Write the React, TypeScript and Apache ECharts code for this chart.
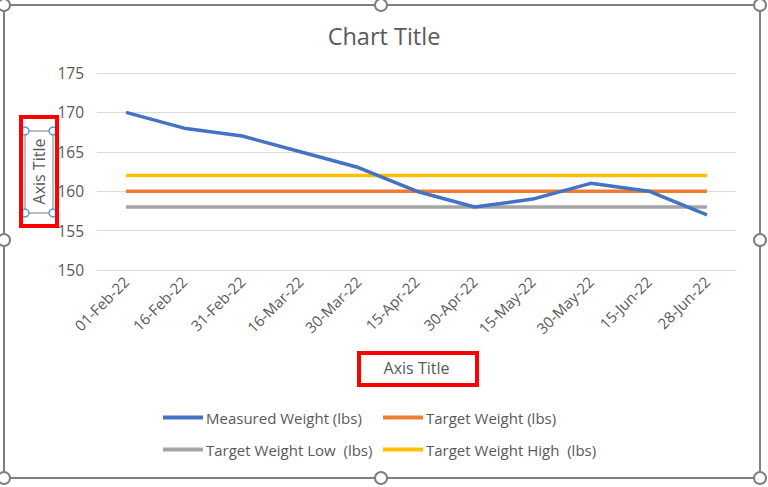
import React, { useEffect, useRef } from "react";
import * as echarts from "echarts";

const categories = ["01-Feb-22", "16-Feb-22", "31-Feb-22", "16-Mar-22", "30-Mar-22", "15-Apr-22", "30-Apr-22", "15-May-22", "30-May-22", "15-Jun-22", "28-Jun-22"];
const measured = [170, 168, 167, 165, 163, 160, 158, 159, 161, 160, 157];
const target = [160, 160, 160, 160, 160, 160, 160, 160, 160, 160, 160];
const targetLow = [158, 158, 158, 158, 158, 158, 158, 158, 158, 158, 158];
const targetHigh = [162, 162, 162, 162, 162, 162, 162, 162, 162, 162, 162];
const seriesNames = ["Measured Weight (lbs)", "Target Weight (lbs)", "Target Weight Low  (lbs)", "Target Weight High  (lbs)"];
const colors = ["#4472C4", "#ED7D31", "#A5A5A5", "#FFC000"];

const FONT = "'Open Sans', sans-serif";
const TXT = "#595959";

export default function App() {
  const ref = useRef<HTMLDivElement>(null);
  useEffect(() => {
    document.body.style.margin = "0";
    const chart = echarts.init(ref.current!, null, { renderer: "svg" });
    const handle = (x: number, y: number) => ({
      type: "circle",
      shape: { cx: x, cy: y, r: 6 },
      style: { fill: "#fff", stroke: "#7f7f7f", lineWidth: 2 },
      z: 100,
    });
    const smallHandle = (x: number, y: number) => ({
      type: "circle",
      shape: { cx: x, cy: y, r: 4 },
      style: { fill: "#fff", stroke: "#5B9BD5", lineWidth: 1.5 },
      z: 102,
    });
    const legendPos = [
      [163, 410],
      [383, 410],
      [163, 442],
      [383, 442],
    ];
    chart.setOption({
      animation: false,
      backgroundColor: "#fff",
      textStyle: { fontFamily: FONT },
      title: {
        text: "Chart Title",
        left: "center",
        top: 19,
        textStyle: { fontSize: 23.5, fontWeight: "normal", color: TXT, fontFamily: FONT },
      },
      legend: seriesNames.map((n, i) => ({
        data: [n],
        left: legendPos[i][0],
        top: legendPos[i][1],
        itemWidth: 40,
        itemHeight: 4,
        itemGap: 4,
        padding: 0,
        icon: "rect",
        textStyle: { fontSize: 15, color: TXT, fontFamily: FONT, padding: [0, 0, 0, -2] },
      })),
      grid: { left: 97, right: 32, top: 73, bottom: 217 },
      xAxis: {
        type: "category",
        data: categories,
        boundaryGap: true,
        name: "Axis Title",
        nameLocation: "middle",
        nameGap: 90,
        nameTextStyle: { fontSize: 16, color: TXT, fontFamily: FONT },
        axisLine: { lineStyle: { color: "#D9D9D9" } },
        axisTick: { show: false },
        axisLabel: { rotate: 45, fontSize: 15, color: TXT, margin: 9, fontFamily: FONT },
      },
      yAxis: {
        type: "value",
        min: 150,
        max: 175,
        interval: 5,
        name: "Axis Title",
        nameLocation: "middle",
        nameRotate: 90,
        nameGap: 50,
        nameTextStyle: { fontSize: 16, color: TXT, fontFamily: FONT },
        axisLabel: { fontSize: 15.5, color: TXT, margin: 13, fontFamily: FONT },
        splitLine: { lineStyle: { color: "#D9D9D9" } },
      },
      series: [measured, target, targetLow, targetHigh].map((d, i) => ({
        name: seriesNames[i],
        type: "line",
        data: d,
        symbol: "none",
        lineStyle: { width: 3.5, color: colors[i] },
        itemStyle: { color: colors[i] },
        z: i === 0 ? 5 : 3,
      })),
      graphic: [
        {
          type: "rect",
          shape: { x: 4, y: 5, width: 756, height: 473 },
          style: { fill: "none", stroke: "#7f7f7f", lineWidth: 2 },
          z: 99,
        },
        handle(4, 5), handle(381, 5), handle(760, 5),
        handle(4, 240), handle(760, 240),
        handle(4, 478), handle(381, 478), handle(760, 478),
        {
          type: "rect",
          shape: { x: 25, y: 131, width: 28, height: 82 },
          style: { fill: "none", stroke: "#7f7f7f", lineWidth: 1 },
          z: 101,
        },
        smallHandle(25, 131), smallHandle(53, 131), smallHandle(25, 213), smallHandle(53, 213),
        {
          type: "rect",
          shape: { x: 21, y: 117, width: 36, height: 109 },
          style: { fill: "none", stroke: "#FF0000", lineWidth: 4 },
          z: 103,
        },
        {
          type: "rect",
          shape: { x: 359, y: 353, width: 118, height: 32 },
          style: { fill: "none", stroke: "#FF0000", lineWidth: 4 },
          z: 103,
        },
      ],
    });
    return () => chart.dispose();
  }, []);
  return <div ref={ref} style={{ width: 768, height: 487 }} />;
}
